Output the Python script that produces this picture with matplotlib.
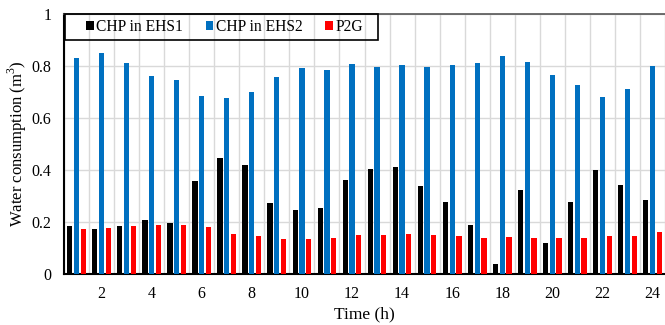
import matplotlib
matplotlib.use("Agg")
import matplotlib.pyplot as plt
from matplotlib.patches import Rectangle
import numpy as np

hours = list(range(1, 25))
chp_ehs1 = [0.183, 0.172, 0.186, 0.208, 0.196, 0.356, 0.445, 0.418, 0.274, 0.246, 0.254, 0.360,
            0.404, 0.410, 0.337, 0.276, 0.188, 0.037, 0.322, 0.120, 0.276, 0.401, 0.341, 0.285]
chp_ehs2 = [0.830, 0.850, 0.810, 0.763, 0.747, 0.683, 0.677, 0.700, 0.759, 0.792, 0.785, 0.808,
            0.795, 0.804, 0.795, 0.804, 0.810, 0.838, 0.817, 0.765, 0.728, 0.682, 0.710, 0.800]
p2g = [0.174, 0.176, 0.183, 0.187, 0.187, 0.180, 0.155, 0.145, 0.136, 0.135, 0.137, 0.149,
       0.149, 0.152, 0.149, 0.145, 0.138, 0.142, 0.138, 0.137, 0.137, 0.147, 0.147, 0.160]
series_names = ["CHP in EHS1", "CHP in EHS2", "P2G"]
colors = ["#000000", "#0070C0", "#FF0000"]
xticks = list(range(2, 25, 2))
yticks = [0, 0.2, 0.4, 0.6, 0.8, 1]

plt.rcParams['font.family'] = ['Liberation Serif', 'DejaVu Serif']
plt.rcParams['mathtext.fontset'] = 'custom'
plt.rcParams['mathtext.rm'] = 'Liberation Serif'
fig = plt.figure(figsize=(6.65, 3.25), dpi=100)
ax = fig.add_axes([64/665, 1-274/325, 1-64/665, 260/325])

x = np.array(hours)
w = 0.21
off = 0.27
for vals, c, name, o in zip([chp_ehs1, chp_ehs2, p2g], colors, series_names, [-off, 0, off]):
    ax.bar(x + o, vals, width=w, color=c, label=name, zorder=3)

ax.set_xlim(0.5, 24.5)
ax.set_ylim(0, 1)
ax.set_yticks(yticks)
ax.set_yticklabels(["0", "0.2", "0.4", "0.6", "0.8", "1"])
ax.set_xticks(xticks)
ax.set_xticks(np.arange(0.5, 25, 1), minor=True)
ax.tick_params(axis='both', which='both', length=0, labelsize=11.5)
ax.tick_params(axis='x', pad=9)
ax.tick_params(axis='y', pad=9)
ax.grid(True, axis='y', color='#d9d9d9', linewidth=1, zorder=0)
ax.grid(True, axis='x', which='minor', color='#d9d9d9', linewidth=1, zorder=0)
ax.grid(False, axis='x', which='major')
for s in ['left', 'bottom']:
    ax.spines[s].set_linewidth(1.5)
    ax.spines[s].set_color('black')
ax.spines['top'].set_color('#555555')
ax.spines['top'].set_linewidth(1.2)
ax.spines['right'].set_visible(False)

ax.set_xlabel("Time (h)", fontsize=12.5, labelpad=3)
ax.set_ylabel(r"Water consumption (m$^\mathrm{3}$)", fontsize=12)
ax.yaxis.set_label_coords(-(64 - 29) / 601, 0.5)

leg = ax.legend(loc='center left', bbox_to_anchor=(86/665, 1-27/325), bbox_transform=fig.transFigure,
                ncol=3, fontsize=11.2, frameon=False, borderaxespad=0, borderpad=0,
                handlelength=0.5, handleheight=0.5, handletextpad=0.15, columnspacing=1.45)
leg.set_zorder(5)
frame = Rectangle((65/665, 1-40/325), 313/665, 26/325, transform=fig.transFigure,
                  facecolor='none', edgecolor='black', linewidth=1.2, zorder=6)
fig.patches.append(frame)

fig.savefig("out.png", dpi=100)
